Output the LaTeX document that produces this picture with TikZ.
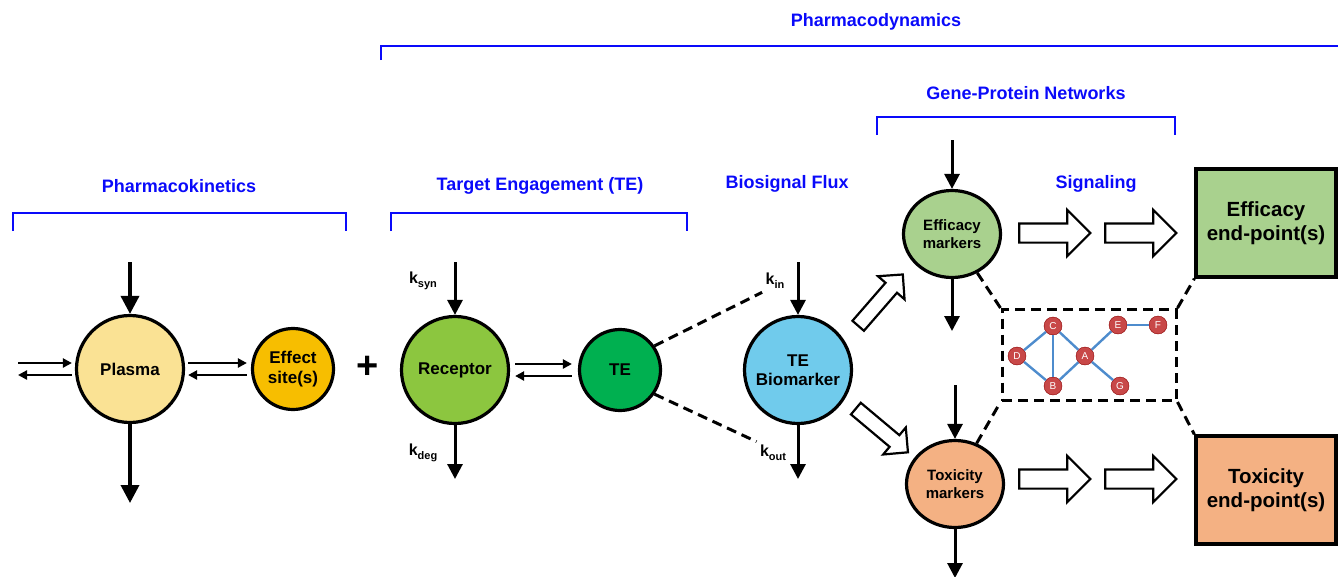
\documentclass[tikz,border=0pt]{standalone}
\usepackage{fontspec}
\setmainfont{Liberation Sans}
\usetikzlibrary{arrows.meta,positioning,shapes.geometric,shapes.arrows,calc}

\definecolor{plasmafill}{RGB}{250,226,148}
\definecolor{effectfill}{RGB}{247,190,0}
\definecolor{receptorfill}{RGB}{140,198,63}
\definecolor{tefill}{RGB}{0,176,80}
\definecolor{biofill}{RGB}{112,203,236}
\definecolor{effgreen}{RGB}{169,209,142}
\definecolor{toxorange}{RGB}{244,177,131}
\definecolor{genered}{RGB}{200,72,72}
\definecolor{geneedge}{RGB}{78,140,205}
\definecolor{headblue}{RGB}{10,10,250}

\newcommand{\ksub}[1]{k{\fontsize{11}{11}\selectfont\raisebox{-4pt}{#1}}}

\begin{document}
\begin{tikzpicture}[
    x=1pt, y=-1pt,
    pool/.style={circle, draw, line width=3.2pt, inner sep=0pt, align=center, font=\fontsize{17}{19.5}\selectfont\bfseries},
    marker/.style={ellipse, draw, line width=3.2pt, minimum width=97pt, minimum height=87pt, inner sep=0pt, align=center, font=\fontsize{15}{18}\selectfont\bfseries},
    endpoint/.style={rectangle, draw, line width=3.4pt, minimum width=140pt, minimum height=108pt, align=center, font=\fontsize{20.5}{24}\selectfont\bfseries},
    gene/.style={circle, draw=red!55!black, fill=genered, minimum size=18pt, inner sep=0pt, text=white, font=\fontsize{10}{10}\selectfont},
    heading/.style={text=headblue, font=\fontsize{18}{20}\selectfont\bfseries},
    klabel/.style={font=\fontsize{16}{18}\selectfont\bfseries},
    bracket/.style={draw=headblue, line width=2pt},
    flux/.style={-{Triangle[length=15pt,width=15pt]}, line width=3pt},
    bigflux/.style={-{Triangle[length=18pt,width=18pt]}, line width=3.6pt},
    swap/.style={-{Triangle[length=9pt,width=9pt]}, line width=2.8pt},
    link/.style={dashed, dash pattern=on 10pt off 6pt, line width=3pt},
    hollow/.style={single arrow, draw, fill=white, line width=2.2pt, inner xsep=0pt, inner ysep=8.5pt, minimum height=71pt, single arrow head extend=13.5pt},
    smallhollow/.style={hollow, inner ysep=6.5pt, minimum height=68pt, single arrow head extend=10pt}
]
\useasboundingbox (0,0) rectangle (1338,576);

% Headings and brackets
\node[heading] (pdlabel) at (876,22) {Pharmacodynamics};
\draw[bracket] (381,60) -- (381,46) -- (1338,46);
\node[heading] (pklabel) at (179,186) {Pharmacokinetics};
\draw[bracket] (13,231) -- (13,213) -- (346,213) -- (346,231);
\node[heading] (telabel) at (540,186) {Target Engagement (TE)};
\draw[bracket] (391,231) -- (391,213) -- (687,213) -- (687,231);
\node[heading] (fluxlabel) at (787,184) {Biosignal Flux};
\node[heading] (gplabel) at (1026,93) {Gene-Protein Networks};
\draw[bracket] (877,135) -- (877,117) -- (1175,117) -- (1175,135);
\node[heading] (siglabel) at (1096,184) {Signaling};

% Pharmacokinetics
\node[pool, fill=plasmafill, minimum size=107pt] (plasma) at (130,369) {Plasma};
\node[pool, fill=effectfill, minimum size=81pt] (effect) at (293,369) {Effect\\site(s)};
\node[font=\fontsize{38}{38}\selectfont\bfseries] (plus) at (368,367) {+};
\coordinate (pkin) at (130,262);
\coordinate (pkout) at (130,503);
\coordinate (pkleft) at (18,369);
\draw[bigflux] (pkin) -- (plasma);
\draw[bigflux] (plasma) -- (pkout);
\draw[swap] ([yshift=6pt]pkleft) -- ([xshift=-3pt,yshift=6pt]plasma.west);
\draw[swap] ([xshift=-3pt,yshift=-6pt]plasma.west) -- ([yshift=-6pt]pkleft);
\draw[swap] ([xshift=3pt,yshift=6pt]plasma.east) -- ([xshift=-4pt,yshift=6pt]effect.west);
\draw[swap] ([xshift=-4pt,yshift=-6pt]effect.west) -- ([xshift=3pt,yshift=-6pt]plasma.east);

% Target engagement
\node[pool, fill=receptorfill, minimum size=107pt] (receptor) at (455,370) {Receptor};
\node[pool, fill=tefill, minimum size=81pt] (te) at (620,370) {TE};
\coordinate (synin) at (455,262);
\coordinate (degout) at (455,479);
\draw[flux] (synin) -- (receptor);
\draw[flux] (receptor) -- (degout);
\node[klabel] (ksyn) at (423,281) {\ksub{syn}};
\node[klabel] (kdeg) at (423,453) {\ksub{deg}};
\draw[swap] ([xshift=5pt,yshift=6pt]receptor.east) -- ([xshift=-6pt,yshift=6pt]te.west);
\draw[swap] ([xshift=-6pt,yshift=-6pt]te.west) -- ([xshift=5pt,yshift=-6pt]receptor.east);

% Biosignal flux
\node[pool, fill=biofill, minimum size=107pt] (bio) at (798,370) {TE\\Biomarker};
\coordinate (influx) at (798,262);
\coordinate (outflux) at (798,479);
\draw[flux] (influx) -- (bio);
\draw[flux] (bio) -- (outflux);
\node[klabel] (kin) at (775,281) {\ksub{in}};
\node[klabel] (kout) at (773,453) {\ksub{out}};
\draw[link] (te.35) -- (kin.south west);
\draw[link] (te.-35) -- (kout.north west);

% Markers
\node[marker, fill=effgreen] (effm) at (952,234) {Efficacy\\markers};
\node[marker, fill=toxorange] (toxm) at (955,484) {Toxicity\\markers};
\node[smallhollow, rotate=49] (uparrow) at (878,303) {};
\node[smallhollow, rotate=-40] (downarrow) at (879,428) {};
\coordinate (effin) at (952,140);
\coordinate (effout) at (952,331);
\coordinate (toxin) at (955,385);
\coordinate (toxout) at (955,578);
\draw[flux] (effin) -- (effm);
\draw[flux] (effm) -- (effout);
\draw[flux] (toxin) -- (toxm);
\draw[flux] (toxm) -- (toxout);

% Signaling to end-points
\node[hollow] (effsig1) at (1050,233) {};
\node[hollow] (effsig2) at (1136,233) {};
\node[hollow] (toxsig1) at (1050,479) {};
\node[hollow] (toxsig2) at (1136,479) {};
\node[endpoint, fill=effgreen] (effend) at (1266,223) {Efficacy\\end-point(s)};
\node[endpoint, fill=toxorange] (toxend) at (1266,490) {Toxicity\\end-point(s)};

% Gene-protein network
\node[draw, link, minimum width=174pt, minimum height=91pt] (netbox) at (1089,355) {};
\node[gene] (C) at (1053,326) {C};
\node[gene] (E) at (1118,325) {E};
\node[gene] (F) at (1158,325) {F};
\node[gene] (D) at (1017,356) {D};
\node[gene] (A) at (1085,356) {A};
\node[gene] (B) at (1053,386) {B};
\node[gene] (G) at (1120,386) {G};
\foreach \u/\v in {C/D, C/B, C/A, D/B, B/A, A/E, E/F, A/G}
    \draw[geneedge, line width=2.4pt] (\u) -- (\v);
\draw[link] (effm.-57) -- (netbox.north west);
\draw[link] (netbox.north east) -- (effend.south west);
\draw[link] (toxm.62) -- (netbox.south west);
\draw[link] (netbox.south east) -- (toxend.north west);

\end{tikzpicture}
\end{document}
